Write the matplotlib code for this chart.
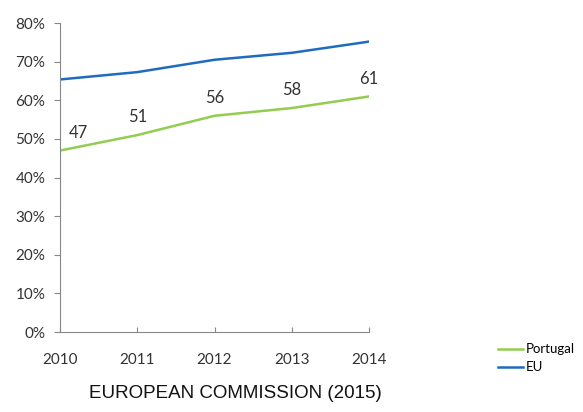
import matplotlib.pyplot as plt

years = [2010, 2011, 2012, 2013, 2014]
portugal = [47, 51, 56, 58, 61]
eu = [65.4, 67.3, 70.5, 72.3, 75.2]
yticks = [0, 10, 20, 30, 40, 50, 60, 70, 80]

GREEN = "#92CD50"
BLUE = "#1F6BBF"
FONT = "Lato"

fig = plt.figure(figsize=(5.83, 4.12), dpi=100)
ax = fig.add_axes([0.103, 0.194, 0.530, 0.750])

ax.plot(years, portugal, color=GREEN, lw=1.8, label="Portugal")
ax.plot(years, eu, color=BLUE, lw=1.8, label="EU")

# value labels above the Portugal line
for x, v in zip(years, portugal):
    dx = 0.24 if x == years[0] else 0
    ax.annotate(str(v), (x + dx, v), xytext=(0, 7), textcoords="offset points",
                ha="center", va="bottom", fontsize=12, family=FONT, color="#333333")

ax.set_xlim(2010, 2014)
ax.set_ylim(0, 80)
ax.set_xticks(years)
ax.set_yticks(yticks)
ax.set_yticklabels([f"{t}%" for t in yticks])
for lbl in ax.get_xticklabels() + ax.get_yticklabels():
    lbl.set_family(FONT)
    lbl.set_fontsize(11)
    lbl.set_color("#333333")

ax.spines["top"].set_visible(False)
ax.spines["right"].set_visible(False)
ax.spines["left"].set_color("#888888")
ax.spines["bottom"].set_color("#888888")
ax.tick_params(axis="y", direction="out", length=4.5, color="#888888", pad=6)
ax.tick_params(axis="x", direction="in", length=3.5, color="#888888", pad=15)

leg = ax.legend(loc="center left", bbox_to_anchor=(1.38, -0.085), frameon=False,
                handlelength=1.9, handletextpad=0.2, labelspacing=0.45,
                prop={"family": FONT, "size": 9.5})

fig.text(0.403, 0.046, "EUROPEAN COMMISSION (2015)", ha="center", va="center",
         fontsize=13.5, family="Liberation Sans", color="#111111")

fig.savefig("out.png", dpi=100)
